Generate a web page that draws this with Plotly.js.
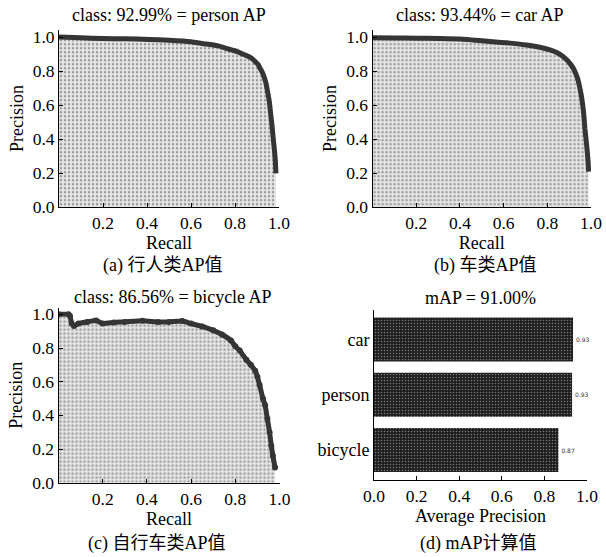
<!DOCTYPE html>
<html>
<head>
<meta charset="utf-8">
<script src="https://cdn.plot.ly/plotly-3.0.1.min.js"></script>
<style>html,body{margin:0;padding:0;background:#fff}#chart{width:606px;height:557px}</style>
</head>
<body>
<div id="chart"></div>
<script>
// ---- data ----
const personRecall    = [0, 0.1, 0.2, 0.3, 0.41, 0.5, 0.6, 0.65, 0.72, 0.76, 0.81, 0.84, 0.876, 0.89, 0.905, 0.914, 0.925, 0.935, 0.941, 0.948, 0.956, 0.962, 0.968, 0.974, 0.98, 0.984, 0.986];
const personPrecision = [1.0, 0.995, 0.991, 0.989, 0.986, 0.981, 0.972, 0.962, 0.949, 0.933, 0.914, 0.897, 0.875, 0.858, 0.838, 0.816, 0.79, 0.755, 0.727, 0.68, 0.62, 0.55, 0.482, 0.4, 0.325, 0.26, 0.198];

const carRecall    = [0, 0.1, 0.2, 0.3, 0.4, 0.55, 0.63, 0.705, 0.76, 0.812, 0.845, 0.873, 0.89, 0.905, 0.919, 0.93, 0.94, 0.946, 0.955, 0.962, 0.968, 0.972, 0.978, 0.983, 0.987, 0.989];
const carPrecision = [0.996, 0.994, 0.993, 0.991, 0.988, 0.972, 0.964, 0.953, 0.941, 0.924, 0.907, 0.884, 0.865, 0.842, 0.816, 0.785, 0.75, 0.718, 0.66, 0.6, 0.53, 0.463, 0.39, 0.325, 0.26, 0.208];

const bikeRecall    = [0, 0.045, 0.052, 0.06, 0.07, 0.09, 0.13, 0.17, 0.2, 0.25, 0.3, 0.38, 0.45, 0.5, 0.56, 0.6, 0.65, 0.7, 0.74, 0.78, 0.8, 0.82, 0.85, 0.87, 0.89, 0.9, 0.91, 0.925, 0.935, 0.945, 0.955, 0.963, 0.97, 0.98];
const bikePrecision = [1.0, 1.0, 0.99, 0.945, 0.93, 0.945, 0.955, 0.963, 0.945, 0.952, 0.955, 0.962, 0.955, 0.955, 0.96, 0.945, 0.928, 0.905, 0.88, 0.845, 0.81, 0.785, 0.73, 0.7, 0.665, 0.63, 0.58, 0.5, 0.46, 0.38, 0.3, 0.22, 0.16, 0.09];

const classNames = ['bicycle', 'person', 'car'];
const classAP    = [0.8656, 0.9299, 0.9344];
const classAPLabels = ['0.87', '0.93', '0.93'];

const prTicks = [0.2, 0.4, 0.6, 0.8, 1.0];
const prTickText = ['0.2', '0.4', '0.6', '0.8', '1.0'];
const precTicks = [0, 0.2, 0.4, 0.6, 0.8, 1.0];
const precTickText = ['0.0', '0.2', '0.4', '0.6', '0.8', '1.0'];
const apTicks = [0, 0.2, 0.4, 0.6, 0.8, 1.0];
const apTickText = ['0.0', '0.2', '0.4', '0.6', '0.8', '1.0'];

const titles = ['class: 92.99% = person AP', 'class: 93.44% = car AP', 'class: 86.56% = bicycle AP', 'mAP = 91.00%'];
const captions = ['(a) 行人类AP值', '(b) 车类AP值', '(c) 自行车类AP值', '(d) mAP计算值'];

// ---- layout helpers ----
const W = 606, H = 557;
const dx = (a, b) => [a / W, b / W];
const dy = (bottom, top) => [1 - bottom / H, 1 - top / H];
const SERIF = 'Liberation Serif, Times New Roman, serif';
const CAP = 'Liberation Serif, Noto Sans CJK SC, serif';

const fillPat = {shape: '.', bgcolor: '#e6e6e6', fgcolor: '#9c9c9c', size: 4, solidity: 0.3};
function prTrace(x, y, xa, ya, withMarkers) {
  return {
    type: 'scatter', mode: withMarkers ? 'lines+markers' : 'lines', x: x, y: y, xaxis: xa, yaxis: ya,
    fill: 'tozeroy', fillpattern: fillPat, fillcolor: '#e6e6e6',
    line: {color: '#353535', width: 5, shape: 'spline', smoothing: 0.5},
    marker: {color: '#353535', size: 6},
    showlegend: false, hoverinfo: 'skip'
  };
}

const data = [
  prTrace(personRecall, personPrecision, 'x', 'y', false),
  prTrace(carRecall, carPrecision, 'x2', 'y2', false),
  prTrace(bikeRecall, bikePrecision, 'x3', 'y3', true),
  {
    type: 'bar', orientation: 'h', x: classAP, y: classNames, xaxis: 'x4', yaxis: 'y4',
    text: classAPLabels, textposition: 'outside', cliponaxis: false,
    textfont: {family: 'DejaVu Sans, sans-serif', size: 6, color: '#333'},
    marker: {color: '#1e1e1e', line: {width: 0},
             pattern: {shape: '.', bgcolor: '#1e1e1e', fgcolor: '#7a7a7a', size: 3, solidity: 0.2}},
    showlegend: false, hoverinfo: 'skip'
  }
];

const axBase = {
  showline: true, linecolor: '#000', linewidth: 1, mirror: false,
  ticks: 'inside', ticklen: 4, tickcolor: '#000', tickwidth: 1,
  showgrid: false, zeroline: false, fixedrange: true,
  tickfont: {family: SERIF, size: 17.5, color: '#000'}
};
function xPR(domain, anchor) {
  return Object.assign({}, axBase, {domain: domain, anchor: anchor, range: [0, 1],
    tickvals: prTicks, ticktext: prTickText,
    title: {text: 'Recall', font: {family: SERIF, size: 18, color: '#000'}, standoff: 2}});
}
function yPR(domain, anchor) {
  return Object.assign({}, axBase, {domain: domain, anchor: anchor, range: [0, 1.04],
    tickvals: precTicks, ticktext: precTickText,
    title: {text: 'Precision', font: {family: SERIF, size: 18, color: '#000'}, standoff: 4}});
}

const annotations = [];
const titlePos = [[169, 15], [480, 15], [173, 297], [480, 298]];
const capPos = [[163, 265], [485, 265], [157, 543], [478, 543]];
titles.forEach((t, i) => annotations.push({text: t, xref: 'paper', yref: 'paper',
  x: titlePos[i][0] / W, y: 1 - titlePos[i][1] / H, xanchor: 'center', yanchor: 'middle',
  showarrow: false, font: {family: SERIF, size: 18, color: '#000'}}));
captions.forEach((t, i) => annotations.push({text: t, xref: 'paper', yref: 'paper',
  x: capPos[i][0] / W, y: 1 - capPos[i][1] / H, xanchor: 'center', yanchor: 'middle',
  showarrow: false, font: {family: CAP, size: 18, color: '#000'}}));

const layout = {
  width: W, height: H, margin: {l: 0, r: 0, t: 0, b: 0},
  paper_bgcolor: '#fff', plot_bgcolor: 'rgba(0,0,0,0)',
  showlegend: false, bargap: 0.2,
  xaxis: xPR(dx(59, 279), 'y'),
  yaxis: yPR(dy(207, 30.2), 'x'),
  xaxis2: xPR(dx(372.6, 591), 'y2'),
  yaxis2: yPR(dy(207, 30.2), 'x2'),
  xaxis3: xPR(dx(58.5, 279.5), 'y3'),
  yaxis3: yPR(dy(482.7, 307.6), 'x3'),
  xaxis4: Object.assign({}, axBase, {domain: dx(374, 587), anchor: 'y4', range: [0, 1],
    tickvals: apTicks, ticktext: apTickText,
    title: {text: 'Average Precision', font: {family: SERIF, size: 18, color: '#000'}, standoff: 2}}),
  yaxis4: Object.assign({}, axBase, {domain: dy(480, 310), anchor: 'x4', range: [-0.543, 2.534],
    type: 'category', ticks: '', tickfont: {family: SERIF, size: 18, color: '#000'}}),
  annotations: annotations
};

Plotly.newPlot('chart', data, layout, {displayModeBar: false, staticPlot: true});
</script>
</body>
</html>
